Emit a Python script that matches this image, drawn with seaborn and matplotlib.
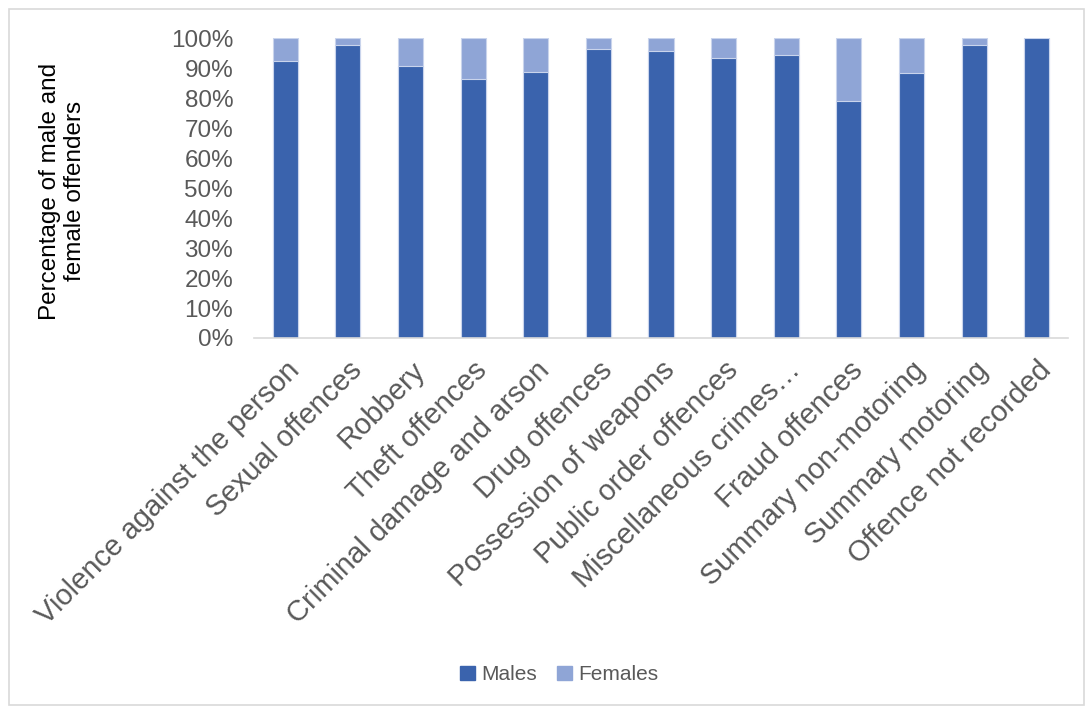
import matplotlib
matplotlib.use("Agg")
import matplotlib.pyplot as plt
import seaborn as sns
import pandas as pd
import numpy as np
from matplotlib.patches import Rectangle
from matplotlib.ticker import PercentFormatter

categories = ["Violence against the person", "Sexual offences", "Robbery", "Theft offences",
              "Criminal damage and arson", "Drug offences", "Possession of weapons",
              "Public order offences", "Miscellaneous crimes…", "Fraud offences",
              "Summary non-motoring", "Summary motoring", "Offence not recorded"]
males = [92.3, 97.9, 90.8, 86.3, 88.6, 96.3, 95.7, 93.3, 94.3, 79.1, 88.3, 97.7, 100.0]
females = [7.7, 2.1, 9.2, 13.7, 11.4, 3.7, 4.3, 6.7, 5.7, 20.9, 11.7, 2.3, 0.0]

male_color = "#3A63AD"
female_color = "#8FA5D6"

sns.set_style("white")
plt.rcParams['font.family'] = ['Liberation Sans', 'DejaVu Sans']

df = pd.DataFrame({"Category": categories, "Males": males, "Females": females})
df["Total"] = df["Males"] + df["Females"]

fig = plt.figure(figsize=(10.88, 7.09), dpi=100)
ax = fig.add_axes([0.2335, 0.5233, 0.7481, 0.4227])

sns.barplot(data=df, x="Category", y="Total", color=female_color, width=0.4,
            edgecolor="#C9D4EC", linewidth=0.8, saturation=1, ax=ax, label="Females")
sns.barplot(data=df, x="Category", y="Males", color=male_color, width=0.4,
            edgecolor="#C9D4EC", linewidth=0.8, saturation=1, ax=ax, label="Males")

ax.set_ylim(0, 100)
ax.set_xlim(-0.5, len(categories) - 0.5)
ax.set_yticks(np.arange(0, 101, 10))
ax.yaxis.set_major_formatter(PercentFormatter(decimals=0))
ax.tick_params(axis="y", labelsize=17.5, labelcolor="#595959", length=0, pad=15)
ax.tick_params(axis="x", labelsize=21, labelcolor="#595959", length=0, pad=13)
ax.set_xticks(range(len(categories)))
ax.set_xticklabels(categories, rotation=45, ha="right", rotation_mode="anchor")
for s in ["top", "right", "left"]:
    ax.spines[s].set_visible(False)
ax.spines["bottom"].set_color("#D9D9D9")
ax.spines["bottom"].set_linewidth(1.2)
ax.set_xlabel("")
ax.set_ylabel("Percentage of male and\nfemale offenders", fontsize=17.5, color="black")
ax.yaxis.set_label_coords(-0.206, 0.49)

handles = [Rectangle((0, 0), 1, 1, color=male_color), Rectangle((0, 0), 1, 1, color=female_color)]
if ax.get_legend() is not None:
    ax.get_legend().remove()
fig.legend(handles, ["Males", "Females"], loc="center", bbox_to_anchor=(0.514, 0.048),
           ncol=2, frameon=False, fontsize=15, labelcolor="#595959",
           handlelength=0.7, handleheight=0.7, handletextpad=0.3, columnspacing=1.0)

fig.patches.append(Rectangle((0.008, 0.006), 0.988, 0.982, transform=fig.transFigure,
                             fill=False, edgecolor="#D9D9D9", linewidth=1.2))

fig.savefig("out.png", dpi=100)
